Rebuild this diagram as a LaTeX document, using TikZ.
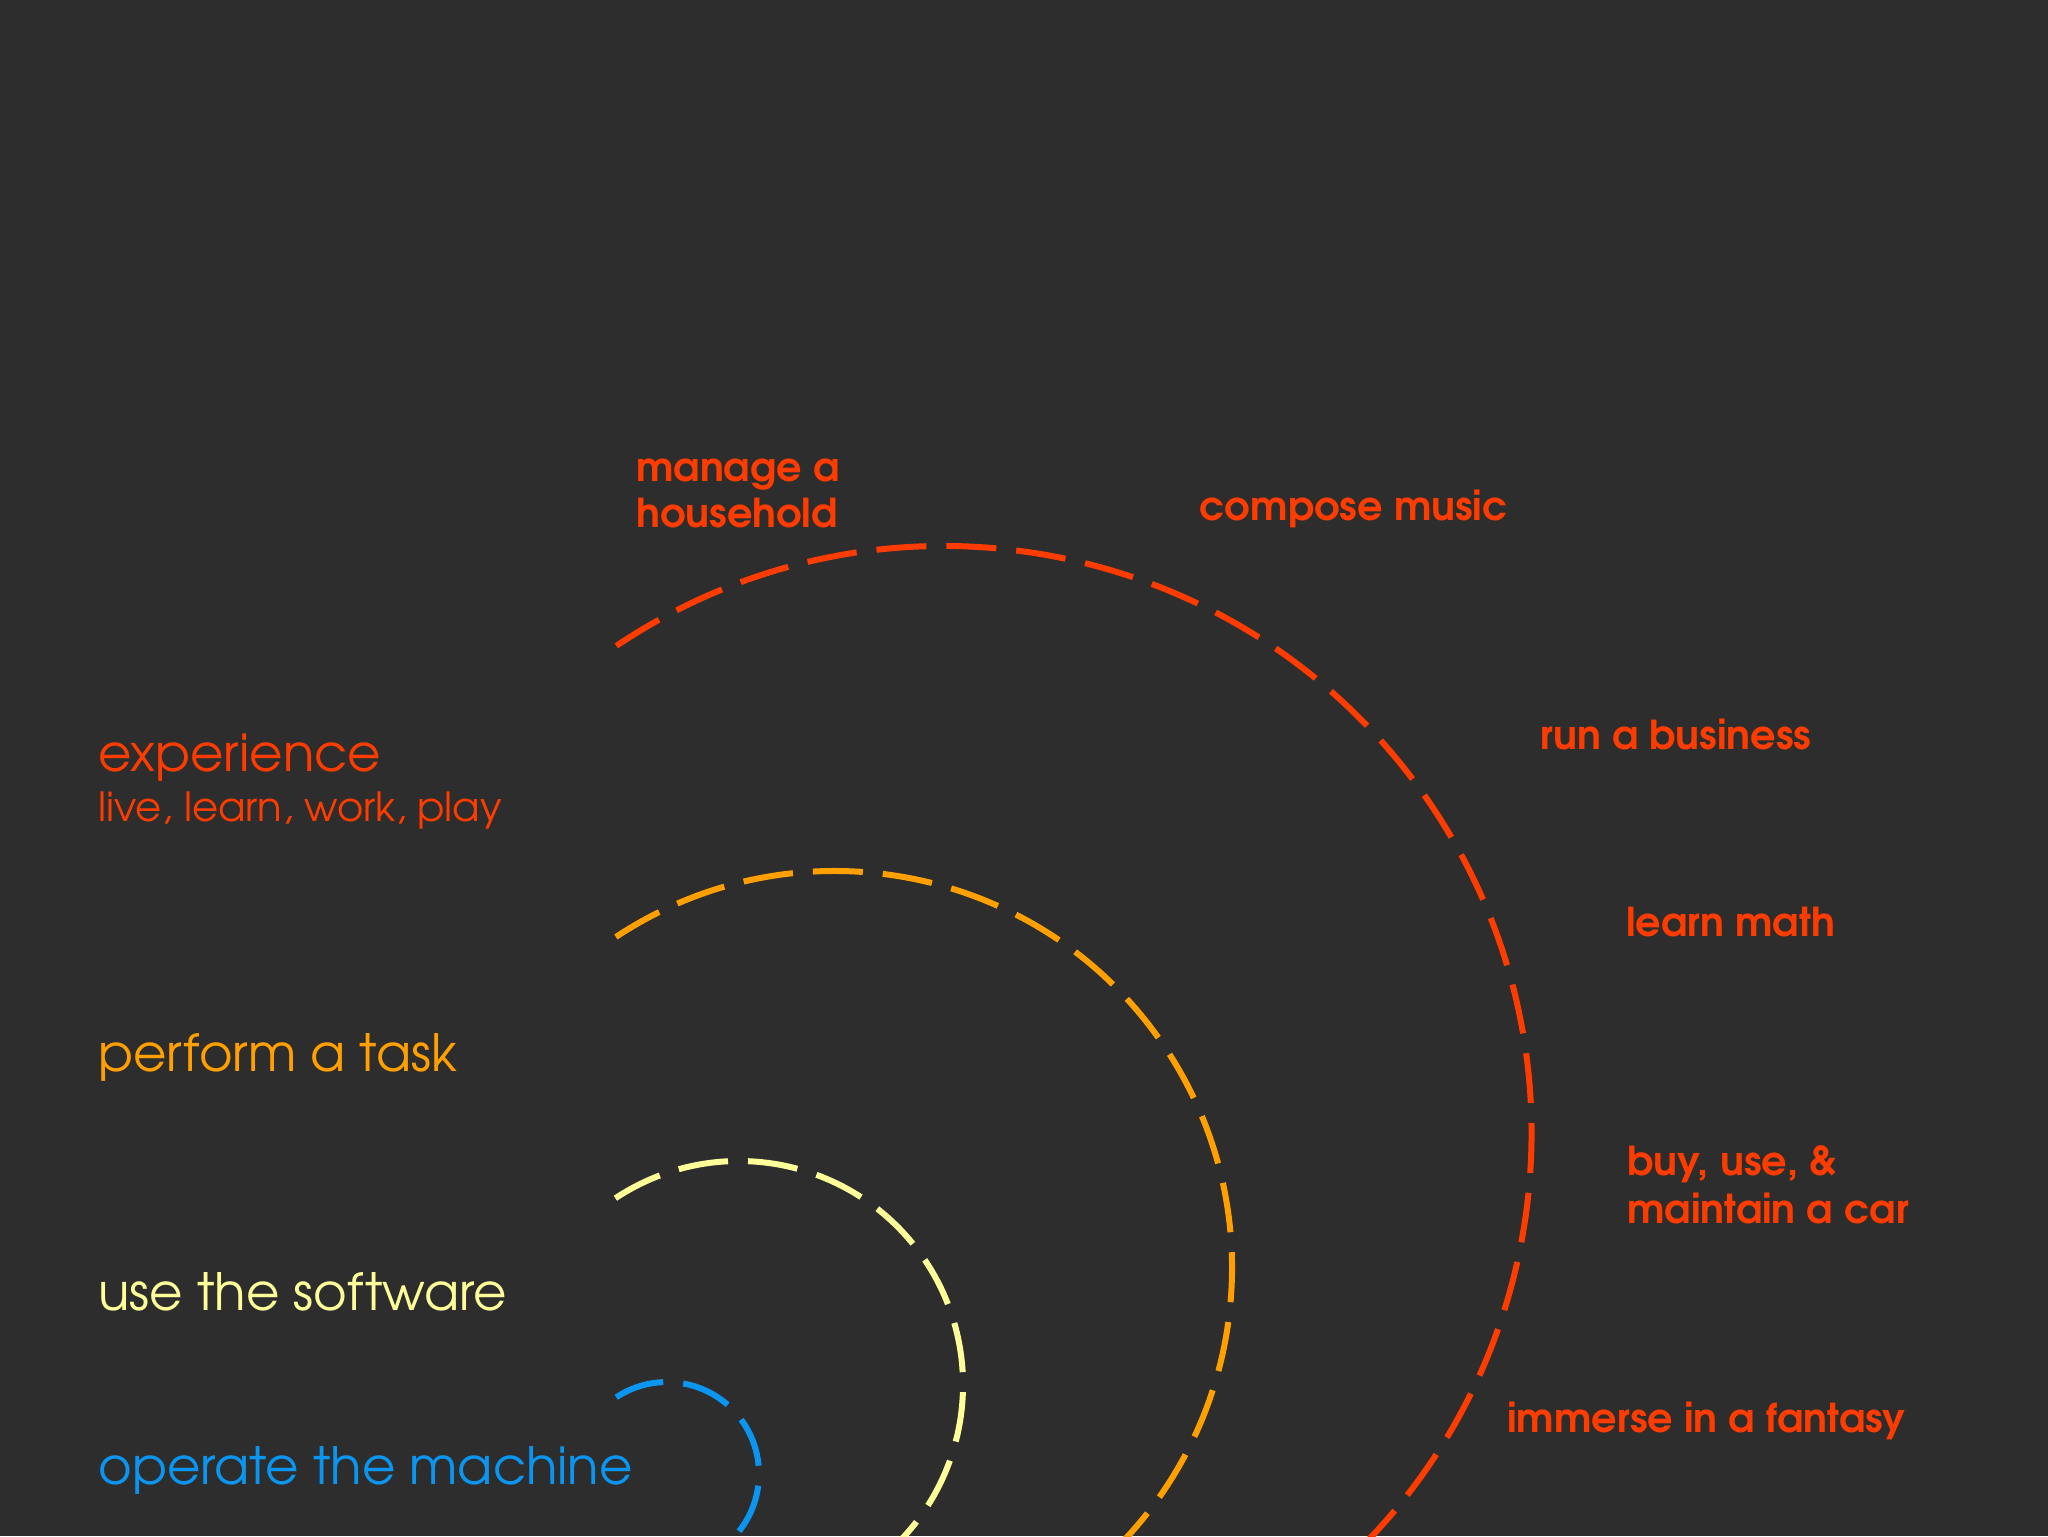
\documentclass[tikz,border=0pt]{standalone}
\usepackage{fontspec}
\setmainfont{texgyreadventor}[Extension=.otf, UprightFont=*-regular, BoldFont=*-bold]
\definecolor{bg}{HTML}{2D2D2D}
\definecolor{cred}{HTML}{FF3C00}
\definecolor{corange}{HTML}{FFA000}
\definecolor{cyellow}{HTML}{FFFF99}
\definecolor{cblue}{HTML}{0A96F0}
\begin{document}
\begin{tikzpicture}[x=0.5pt,y=-0.5pt,
  lbl/.style={anchor=base west, inner sep=0pt, text=cred, font=\fontsize{19.9}{23}\selectfont\bfseries},
  big/.style={anchor=base west, inner sep=0pt, font=\fontsize{25.7}{31}\selectfont},
  small/.style={anchor=base west, inner sep=0pt, font=\fontsize{20.1}{23}\selectfont},
  ring/.style={line width=3pt, dash pattern=on 25pt off 10pt}]
\fill[bg] (0,0) rectangle (2048,1536);
\useasboundingbox (0,0) rectangle (2048,1536);
\begin{scope}
\clip (0,0) rectangle (2048,1536);
\draw[ring, cblue]   (667,1474) ++(-123.5:92)    arc[start angle=-123.5, end angle=100, radius=92];
\draw[ring, cyellow] (739,1385) ++(-123.5:224)   arc[start angle=-123.5, end angle=100, radius=224];
\draw[ring, corange] (835,1268) ++(-123.5:397)   arc[start angle=-123.5, end angle=100, radius=397];
\draw[ring, cred]    (944,1133.5) ++(-123.9:587.5) arc[start angle=-123.9, end angle=100, radius=587.5];
\end{scope}
% left labels
\node[big, text=cred] (exp) at (98,771) {experience};
\node[small, text=cred] (expsub) at (98,821) {live, learn, work, play};
\node[big, text=corange] (task) at (98,1071) {perform a task};
\node[big, text=cyellow] (soft) at (98,1310) {use the software};
\node[big, text=cblue] (mach) at (98,1484) {operate the machine};
% activity labels
\node[lbl] (hh1) at (636,481) {manage a};
\node[lbl] (hh2) at (636,527) {household};
\node[lbl] (music) at (1199,520) {compose music};
\node[lbl] (biz) at (1540,749) {run a business};
\node[lbl] (math) at (1626,936) {learn math};
\node[lbl] (car1) at (1627,1175) {buy, use, \&};
\node[lbl] (car2) at (1627,1223) {maintain a car};
\node[lbl] (fant) at (1507,1432) {immerse in a fantasy};
\end{tikzpicture}
\end{document}
